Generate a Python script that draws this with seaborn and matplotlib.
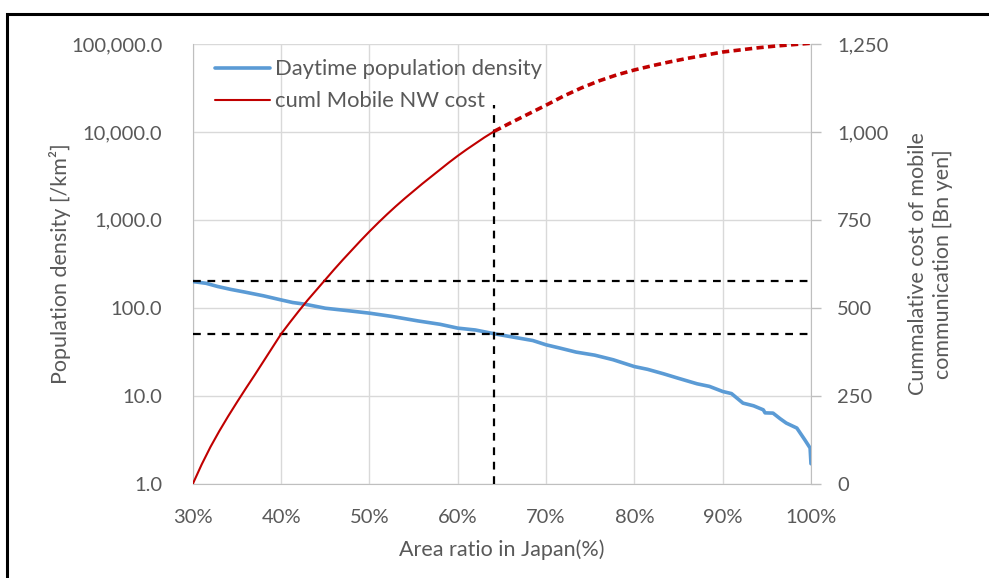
import matplotlib
matplotlib.use("Agg")
import matplotlib.pyplot as plt
import seaborn as sns
import pandas as pd
from matplotlib.ticker import FuncFormatter, FixedLocator
from matplotlib.patches import Rectangle
from matplotlib.lines import Line2D

# blue curve: daytime population density (left, log axis)
area_pop = [30.0, 31.5, 32.8, 34.3, 35.9, 38.0, 40.0, 41.3, 42.7, 45.0, 47.5,
            50.0, 52.5, 55.5, 58.0, 60.0, 62.0, 64.15, 66.0, 68.5, 70.0, 71.5,
            73.4, 75.5, 77.6, 80.0, 81.5, 83.3, 85.0, 87.1, 88.5, 90.0, 91.0,
            92.3, 93.5, 94.6, 94.8, 95.7, 96.5, 97.2, 98.4, 99.3, 99.9, 100.0]
density = [199, 190, 175, 162, 151, 137, 123, 115, 110, 99, 93,
           87, 80, 71, 65, 58.8, 56, 50.7, 47, 42.5, 38, 35,
           31.4, 29, 25.7, 21.5, 20, 17.8, 15.8, 13.7, 12.8, 11.2, 10.6,
           8.26, 7.7, 6.93, 6.4, 6.36, 5.5, 4.9, 4.3, 3.16, 2.55, 1.69]

# red curve: cumulative mobile network cost (right axis, Bn yen)
area_cost = [30, 31, 32, 33, 34, 35, 36, 37, 38, 39, 40, 41, 42, 43, 44, 45,
             46, 47, 48, 49, 50, 51, 52, 53, 54, 55, 56, 57, 58, 59, 60, 61, 62, 63,
             64.15, 66, 68, 70, 72, 74, 76, 78, 80, 82, 84, 86, 88, 90, 92, 94, 96, 98, 100]
cost = [0, 55, 105, 150, 192, 232, 271, 309, 348, 387, 426, 459, 491, 522, 551, 580,
        609, 637, 664, 691, 717, 742, 766, 789, 811, 832, 853, 873, 893, 913, 932, 950, 967, 984,
        1002, 1026, 1051, 1076, 1102, 1125, 1145, 1162, 1176, 1188, 1199, 1209, 1218, 1227,
        1233, 1239, 1244, 1248, 1252]

cutoff = 64.15
ref_levels = [200, 50]

df_pop = pd.DataFrame({"area": area_pop, "density": density})
df_cost = pd.DataFrame({"area": area_cost, "cost": cost})
solid = df_cost[df_cost["area"] <= cutoff]
dashed = df_cost[df_cost["area"] >= cutoff]

sns.set_style("white")
plt.rcParams["font.family"] = ["Lato", "DejaVu Sans"]

grey = "#595959"
blue = "#5B9BD5"
red = "#C00000"

fig, ax = plt.subplots(figsize=(9.89, 5.78), dpi=100)
fig.subplots_adjust(left=0.195, right=0.820, top=0.924, bottom=0.163)

sns.lineplot(data=df_pop, x="area", y="density", ax=ax, color=blue, linewidth=2.6,
             estimator=None, sort=False, zorder=3)
ax.set_yscale("log")
ax.set_ylim(1, 100000)
ax.set_xlim(30, 100)
ax.yaxis.set_major_locator(FixedLocator([1, 10, 100, 1000, 10000, 100000]))
ax.yaxis.set_minor_locator(FixedLocator([]))
ax.yaxis.set_major_formatter(FuncFormatter(lambda v, p: f"{v:,.1f}"))
ax.set_xticks(range(30, 101, 10))
ax.xaxis.set_major_formatter(FuncFormatter(lambda v, p: f"{v:.0f}%"))
ax.grid(True, color="#D9D9D9", linewidth=1)
ax.set_axisbelow(True)

# reference lines
for lv in ref_levels:
    ax.axhline(lv, color="black", linestyle=(0, (3.5, 3)), linewidth=1.6, zorder=4)
ax.vlines(cutoff, 1, 20000, color="black", linestyle=(0, (3.5, 3)), linewidth=1.6, zorder=4)

ax2 = ax.twinx()
sns.lineplot(data=solid, x="area", y="cost", ax=ax2, color=red, linewidth=1.5,
             estimator=None, sort=False)
sns.lineplot(data=dashed, x="area", y="cost", ax=ax2, color=red, linewidth=2.6,
             linestyle=(0, (2, 1.2)), estimator=None, sort=False)
ax2.set_ylim(0, 1250)
ax2.set_yticks(range(0, 1251, 250))
ax2.yaxis.set_major_formatter(FuncFormatter(lambda v, p: f"{v:,.0f}"))

for a in (ax, ax2):
    for s in a.spines.values():
        s.set_visible(False)
    a.tick_params(colors=grey, labelsize=14.5, length=0)
ax.spines["left"].set_visible(True)
ax.spines["left"].set_color("#BFBFBF")
ax.spines["bottom"].set_visible(True)
ax.spines["bottom"].set_color("#BFBFBF")
ax2.spines["right"].set_visible(True)
ax2.spines["right"].set_color("#BFBFBF")
ax2.tick_params(axis="y", length=7, width=1, color="#BFBFBF", pad=12)
ax.tick_params(axis="x", pad=18)
ax.tick_params(axis="y", pad=22)

ax.set_xlabel("Area ratio in Japan(%)", color=grey, fontsize=15.5, labelpad=10)
ax.set_ylabel("Population density [/km²]", color=grey, fontsize=15.5, labelpad=0)
ax2.set_ylabel("Cummalative cost of mobile\ncommunication [Bn yen]", color=grey,
               fontsize=15.5, labelpad=14, linespacing=1.3)

handles = [Line2D([], [], color=blue, linewidth=2.6), Line2D([], [], color=red, linewidth=1.5)]
ax2.legend(handles, ["Daytime population density", "cuml Mobile NW cost"],
           loc="upper left", bbox_to_anchor=(0.036, 0.965), frameon=False,
           fontsize=15.8, labelcolor=grey, handlelength=2.5, handletextpad=0.25,
           borderaxespad=0, borderpad=0, labelspacing=0.55)

# outer frame (left and top edges visible)
fig.patches.append(Rectangle((7 / 989, -0.2), 1.5, 0.2 + 1 - 14 / 578, transform=fig.transFigure,
                             fill=False, edgecolor="black", linewidth=2.2))

fig.savefig("out.png", dpi=100)
